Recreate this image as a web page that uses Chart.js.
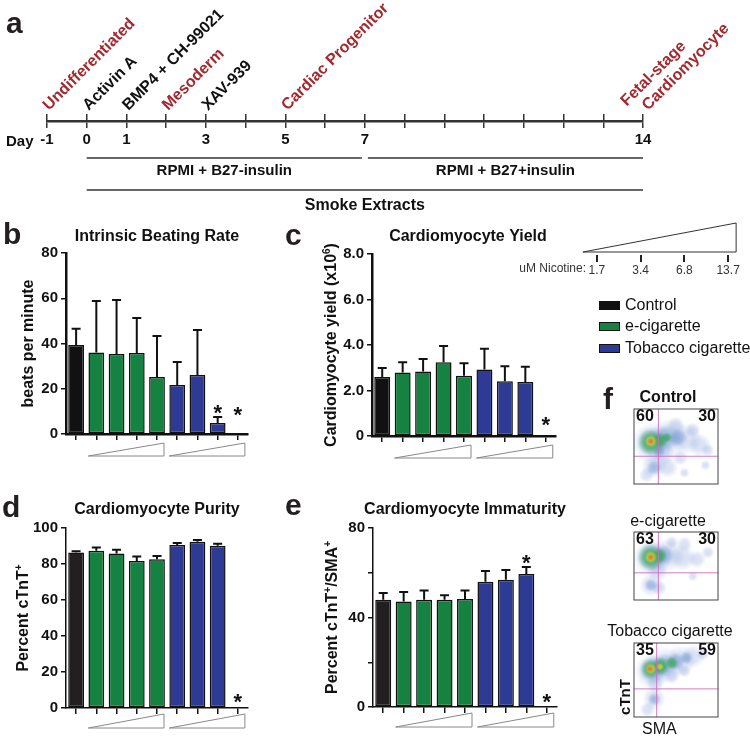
<!DOCTYPE html>
<html>
<head>
<meta charset="utf-8">
<script src="https://cdn.jsdelivr.net/npm/chart.js@4.4.0/dist/chart.umd.min.js"></script>
<style>
body { margin: 0; background: #fff; }
#wrap { position: relative; width: 750px; height: 738px; overflow: hidden; font-family: "Liberation Sans", Arial, sans-serif; color: #111; }
canvas { position: absolute; }
.sq { position: absolute; left: 599px; width: 21px; height: 9px; box-sizing: border-box; border: 1.5px solid #111; }
.lt { position: absolute; left: 625px; font-size: 16px; line-height: 18px; white-space: nowrap; }
</style>
</head>
<body>
<div id="wrap">
  <canvas id="tl" style="left:0;top:0" width="750" height="215"></canvas>
  <canvas id="nic" style="left:500px;top:200px" width="250" height="85"></canvas>
  <canvas id="cb" style="left:0;top:215px" width="260" height="260"></canvas>
  <canvas id="cc" style="left:270px;top:215px" width="300" height="260"></canvas>
  <canvas id="cd" style="left:0;top:480px" width="260" height="258"></canvas>
  <canvas id="ce" style="left:270px;top:480px" width="300" height="258"></canvas>
  <canvas id="f1" style="left:600px;top:380px" width="150" height="120"></canvas>
  <canvas id="f2" style="left:600px;top:505px" width="150" height="110"></canvas>
  <canvas id="f3" style="left:600px;top:615px" width="150" height="123"></canvas>

  <div class="sq" style="top:301px;background:#111"></div><div class="lt" style="top:296px">Control</div>
  <div class="sq" style="top:322px;background:#168241"></div><div class="lt" style="top:317px">e-cigarette</div>
  <div class="sq" style="top:344px;background:#2d3b94"></div><div class="lt" style="top:339px">Tobacco cigarette</div>
</div>
<script>
const FONT = '"Liberation Sans", Arial, Helvetica, sans-serif';
Chart.defaults.font.family = FONT;

// ---- panel a: protocol timeline
const dayLabels = [-1, 0, 1, 3, 5, 7, 14];
const eventDays = [-1, 0, 1, 2, 3, 5, 14];
const eventTexts = ['Undifferentiated', 'Activin A', 'BMP4 + CH-99021', 'Mesoderm', 'XAV-939', 'Cardiac Progenitor', 'Fetal-stage\nCardiomyocyte'];
const eventIsStage = [true, false, false, true, false, true, true];
const mediaFrom = [0, 7];
const mediaTo = [7, 14];
const mediaText = ['RPMI + B27-insulin', 'RPMI + B27+insulin'];
const smokeFrom = 0, smokeTo = 14;

// ---- bar panels (b-e)
const groups = ['Control', 'e-cig 1.7', 'e-cig 3.4', 'e-cig 6.8', 'e-cig 13.7', 'Tobacco 1.7', 'Tobacco 3.4', 'Tobacco 6.8', 'Tobacco 13.7'];
const beatRate = [39.3, 36.0, 35.4, 35.8, 25.2, 21.7, 26.1, 4.9, 0];
const beatRateSd = [7.2, 22.8, 23.8, 15.5, 18.1, 10.1, 19.9, 2.6, 0];
const beatStars = [7, 8];
const cmYield = [2.59, 2.79, 2.84, 3.24, 2.65, 2.92, 2.41, 2.37, 0];
const cmYieldSd = [0.40, 0.45, 0.55, 0.72, 0.55, 0.92, 0.66, 0.67, 0];
const yieldStars = [8];
const purity = [86.4, 87.3, 85.8, 81.7, 82.6, 90.6, 92.3, 90.1, 0];
const puritySd = [0.7, 1.9, 2.1, 2.4, 1.9, 1.0, 1.0, 1.1, 0];
const purityStars = [8];
const immaturity = [47.9, 47.1, 47.9, 47.9, 48.3, 56.0, 56.9, 59.4, 0];
const immaturitySd = [3.0, 4.3, 4.2, 2.1, 3.8, 4.8, 4.3, 3.2, 0];
const immaturityStars = [7, 8];

const nicotineDoses = ['1.7', '3.4', '6.8', '13.7'];

// ---- panel f: flow plots, density blobs [x, y, radius px], 0-100 axes
const fTitles = ['Control', 'e-cigarette', 'Tobacco cigarette'];
const fLeftPct = ['60', '63', '35'];
const fRightPct = ['30', '30', '59'];
const fGateX = [29, 29, 27];
const fGateY = [37, 40, 38];
const ctrlHalo = [[22,55,16],[42,62,15],[62,60,12],[78,52,9],[88,45,5],[35,40,9],[24,25,10],[40,22,8],[15,12,6],[55,35,6],[50,78,7],[70,72,6],[85,25,4],[60,15,4]];
const ctrlMid = [[21,56,12],[38,62,10],[52,62,7],[24,22,6],[30,44,5]];
const ctrlCore = [[20,56,10],[31,58,6],[39,62,4]];
const ctrlHot = [[20,57,5]];
const ctrlPeak = [[20,57,2.5]];
const ecigHalo = [[22,62,15],[40,66,13],[58,62,10],[75,60,7],[88,70,5],[28,42,8],[20,22,9],[30,18,6],[60,82,6],[45,85,5],[70,35,4]];
const ecigMid = [[21,63,12],[36,66,8],[20,22,5]];
const ecigCore = [[20,63,10],[30,65,6]];
const ecigHot = [[20,63,5]];
const ecigPeak = [[20,63,2.5]];
const tobHalo = [[22,62,14],[38,70,14],[55,76,12],[70,82,9],[82,85,5],[25,45,7],[24,25,9],[16,10,6],[45,55,6],[60,62,5]];
const tobMid = [[22,64,11],[36,70,9],[50,75,7],[62,80,5],[24,24,5]];
const tobCore = [[20,65,8],[32,69,7],[45,73,5]];
const tobHot = [[20,65,4.5],[31,68,3]];
const tobPeak = [[19,65,2.5]];

const GREEN = '#168241', BLUE = '#2d3b94';

function letter(ctx, t, x, y) {
  ctx.save();
  ctx.font = 'bold 30px ' + FONT;
  ctx.fillStyle = '#231f20';
  ctx.textAlign = 'left';
  ctx.textBaseline = 'alphabetic';
  ctx.fillText(t, x, y);
  ctx.restore();
}

function richText(ctx, parts, x, y, size) {
  const big = 'bold ' + size + 'px ' + FONT;
  const small = 'bold ' + Math.round(size * 0.6) + 'px ' + FONT;
  let w = 0;
  parts.forEach(p => { ctx.font = p.sup ? small : big; w += ctx.measureText(p.t).width; });
  let cx = x - w / 2;
  ctx.textAlign = 'left';
  ctx.textBaseline = 'alphabetic';
  parts.forEach(p => {
    ctx.font = p.sup ? small : big;
    ctx.fillText(p.t, cx, p.sup ? y - size * 0.4 : y);
    cx += ctx.measureText(p.t).width;
  });
}

// ---------- timeline
const tlDeco = {
  id: 'tlDeco',
  afterDraw(chart) {
    const ctx = chart.ctx, x = chart.scales.x;
    ctx.save();
    eventDays.forEach((d, i) => {
      const lines = eventTexts[i].split('\n');
      ctx.save();
      ctx.translate(x.getPixelForValue(d) + (lines.length > 1 ? 5 : 2), 111);
      ctx.rotate(-Math.PI / 4);
      ctx.fillStyle = eventIsStage[i] ? '#a3292e' : '#111';
      ctx.font = 'bold 16px ' + FONT;
      ctx.textAlign = 'left';
      ctx.textBaseline = 'alphabetic';
      lines.forEach((t, k) => {
        const up = lines.length - 1 - k;
        ctx.fillText(t, -12 * up, -18 * up);
      });
      ctx.restore();
    });
    ctx.fillStyle = '#111';
    ctx.font = 'bold 15px ' + FONT;
    ctx.textAlign = 'left';
    ctx.textBaseline = 'middle';
    ctx.fillText('Day', 6, 142);

    ctx.strokeStyle = '#333';
    ctx.lineWidth = 1.5;
    mediaFrom.forEach((f, i) => {
      const a = x.getPixelForValue(f) + (i > 0 ? 3 : 0);
      const b = x.getPixelForValue(mediaTo[i]) - (i === 0 ? 3 : 0);
      ctx.beginPath(); ctx.moveTo(a, 158); ctx.lineTo(b, 158); ctx.stroke();
      ctx.font = 'bold 15px ' + FONT;
      ctx.textAlign = 'center';
      ctx.fillText(mediaText[i], (a + b) / 2, 171);
    });
    const s0 = x.getPixelForValue(smokeFrom), s1 = x.getPixelForValue(smokeTo);
    ctx.beginPath(); ctx.moveTo(s0, 190); ctx.lineTo(s1, 190); ctx.stroke();
    ctx.font = 'bold 16px ' + FONT;
    ctx.textAlign = 'center';
    ctx.fillText('Smoke Extracts', (s0 + s1) / 2, 206);
    letter(ctx, 'a', 6, 33);
    ctx.restore();
  }
};

new Chart(document.getElementById('tl'), {
  type: 'scatter',
  data: { datasets: [] },
  options: {
    responsive: false, animation: false, devicePixelRatio: 1,
    layout: { padding: { left: 47, right: 107, top: 114, bottom: 54 } },
    plugins: { legend: { display: false }, tooltip: { enabled: false } },
    scales: {
      x: {
        type: 'linear', min: -1, max: 14, position: 'bottom',
        ticks: {
          stepSize: 1, autoSkip: false, maxRotation: 0, padding: 3, color: '#111',
          font: { size: 15, weight: 'bold' },
          callback: v => dayLabels.includes(v) ? String(v) : ''
        },
        grid: { drawOnChartArea: true, drawTicks: true, tickLength: 7, color: '#333', lineWidth: 1.5 },
        border: { display: true, color: '#333', width: 2.5 },
        afterFit: s => { s.height = 40; }
      },
      y: { display: false }
    }
  },
  plugins: [tlDeco]
});

// ---------- nicotine scale
const nicDeco = {
  id: 'nicDeco',
  afterDraw(chart) {
    const ctx = chart.ctx, x = chart.scales.x;
    const x0 = x.getPixelForValue(0) - 14, x1 = x.getPixelForValue(3) + 8;
    ctx.save();
    ctx.strokeStyle = '#333';
    ctx.lineWidth = 1;
    ctx.beginPath();
    ctx.moveTo(x0, 52); ctx.lineTo(x1, 23); ctx.lineTo(x1, 52); ctx.closePath();
    ctx.stroke();
    ctx.fillStyle = '#333';
    ctx.font = '12px ' + FONT;
    ctx.textAlign = 'right';
    ctx.textBaseline = 'middle';
    ctx.fillText('uM Nicotine:', 86, 69);
    ctx.restore();
  }
};

new Chart(document.getElementById('nic'), {
  type: 'line',
  data: { labels: nicotineDoses, datasets: [] },
  options: {
    responsive: false, animation: false, devicePixelRatio: 1,
    layout: { padding: { left: 75, right: 0, top: 20, bottom: 5 } },
    plugins: { legend: { display: false }, tooltip: { enabled: false } },
    scales: {
      x: {
        offset: true,
        ticks: { color: '#333', padding: 1, font: { size: 12 } },
        grid: { offset: false, drawOnChartArea: false, tickLength: 7, color: '#222', lineWidth: 2 },
        border: { display: false },
        afterFit: s => { s.height = 25; }
      },
      y: { display: false }
    }
  },
  plugins: [nicDeco]
});

// ---------- bar panels
function barColors(ctrl) {
  return groups.map((g, i) => i === 0 ? ctrl : (i < 5 ? GREEN : BLUE));
}

function barChart(id, o) {
  const deco = {
    id: 'deco' + id,
    afterDatasetsDraw(chart) {
      const ctx = chart.ctx, y = chart.scales.y, x = chart.scales.x;
      const bars = chart.getDatasetMeta(0).data;
      const base = y.getPixelForValue(0);
      ctx.save();
      ctx.strokeStyle = '#111';
      ctx.lineWidth = 2;
      o.values.forEach((v, i) => {
        if (!o.sd[i]) return;
        const bx = bars[i].x, top = y.getPixelForValue(v + o.sd[i]), bt = y.getPixelForValue(v);
        ctx.beginPath();
        ctx.moveTo(bx, bt); ctx.lineTo(bx, top);
        ctx.moveTo(bx - 4.5, top); ctx.lineTo(bx + 4.5, top);
        ctx.stroke();
      });
      ctx.fillStyle = '#111';
      ctx.font = 'bold 22px ' + FONT;
      ctx.textAlign = 'center';
      ctx.textBaseline = 'alphabetic';
      o.stars.forEach(i => {
        const errPx = y.getPixelForValue(o.values[i] + o.sd[i]);
        const cy = Math.min(errPx - 9, base - o.lift);
        ctx.fillText('*', bars[i].x, cy + 12);
      });
      // dose wedges under each treatment group
      ctx.strokeStyle = '#888';
      ctx.lineWidth = 1;
      [[1, 4], [5, 8]].forEach(([a, b]) => {
        const x0 = x.getPixelForValue(a) - 8, x1 = x.getPixelForValue(b) + 7;
        ctx.beginPath();
        ctx.moveTo(x0, base + o.wedge[1]); ctx.lineTo(x1, base + o.wedge[0]); ctx.lineTo(x1, base + o.wedge[1]); ctx.closePath();
        ctx.stroke();
      });
      ctx.restore();
    },
    afterDraw(chart) {
      const ctx = chart.ctx, a = chart.chartArea;
      ctx.save();
      ctx.fillStyle = '#111';
      ctx.font = 'bold 16px ' + FONT;
      ctx.textAlign = 'center';
      ctx.textBaseline = 'middle';
      ctx.fillText(o.title, (a.left + a.right) / 2 + o.titleDx, o.titleY);
      ctx.save();
      ctx.translate(o.yTitleX, (a.top + a.bottom) / 2);
      ctx.rotate(-Math.PI / 2);
      richText(ctx, o.yTitle, 0, 6, 16);
      ctx.restore();
      letter(ctx, o.letter[0], o.letter[1], o.letter[2]);
      ctx.restore();
    }
  };
  new Chart(document.getElementById(id), {
    type: 'bar',
    data: {
      labels: groups,
      datasets: [{
        data: o.values, backgroundColor: barColors(o.ctrl), borderColor: '#111', borderWidth: 1.5,
        borderSkipped: false, barPercentage: 0.78, categoryPercentage: 1
      }]
    },
    options: {
      responsive: false, animation: false, devicePixelRatio: 1,
      layout: { padding: o.pad },
      plugins: { legend: { display: false }, tooltip: { enabled: false } },
      scales: {
        x: {
          ticks: { display: false },
          grid: { offset: false, drawOnChartArea: false, tickLength: 6, color: '#111', lineWidth: 1.5 },
          border: { color: '#111', width: o.axisW },
          afterFit: s => { s.height = 10; }
        },
        y: {
          min: 0, max: o.max,
          ticks: { stepSize: o.step, color: '#111', padding: 3, font: { size: 15, weight: 'bold' }, callback: o.fmt },
          grid: { drawOnChartArea: false, tickLength: 5, color: '#111', lineWidth: 1.5 },
          border: { color: '#111', width: o.axisW },
          afterFit: s => { s.width = 40; }
        }
      }
    },
    plugins: [deco]
  });
}

barChart('cb', {
  values: beatRate, sd: beatRateSd, stars: beatStars, ctrl: '#111',
  max: 80, step: 20, fmt: v => v, axisW: 2.5, lift: 24, wedge: [9, 22],
  pad: { left: 26, top: 38, right: 12, bottom: 31 },
  title: 'Intrinsic Beating Rate', titleDx: 0, titleY: 22,
  yTitle: [{ t: 'beats per minute' }], yTitleX: 27, letter: ['b', 3, 29]
});
barChart('cc', {
  values: cmYield, sd: cmYieldSd, stars: yieldStars, ctrl: '#111',
  max: 8, step: 2, fmt: v => v === 0 ? '0' : v.toFixed(1), axisW: 2.5, lift: 16, wedge: [9, 22],
  pad: { left: 62, top: 39, right: 14, bottom: 29 },
  title: 'Cardiomyocyte Yield', titleDx: 4, titleY: 22,
  yTitle: [{ t: 'Cardiomyocyte yield (x10' }, { t: '6', sup: true }, { t: ')' }], yTitleX: 60, letter: ['c', 15, 30]
});
barChart('cd', {
  values: purity, sd: puritySd, stars: purityStars, ctrl: '#231f20',
  max: 100, step: 20, fmt: v => v, axisW: 1.5, lift: 11, wedge: [6, 20],
  pad: { left: 26, top: 48, right: 12, bottom: 20 },
  title: 'Cardiomyocyte Purity', titleDx: 0, titleY: 30,
  yTitle: [{ t: 'Percent cTnT' }, { t: '+', sup: true }], yTitleX: 22, letter: ['d', 2, 37]
});
barChart('ce', {
  values: immaturity, sd: immaturitySd, stars: immaturityStars, ctrl: '#231f20',
  max: 80, step: 20, fmt: v => v % 40 === 0 ? v : '', axisW: 1.5, lift: 10, wedge: [6, 20],
  pad: { left: 63, top: 48, right: 13, bottom: 21 },
  title: 'Cardiomyocyte Immaturity', titleDx: 0, titleY: 30,
  yTitle: [{ t: 'Percent cTnT' }, { t: '+', sup: true }, { t: '/SMA' }, { t: '+', sup: true }], yTitleX: 61, letter: ['e', 15, 35]
});

// ---------- flow plots
const levelRgb = ['110,140,210', '60,115,195', '60,170,90', '222,212,55', '238,110,40'];
const levelAlpha = [0.28, 0.36, 0.85, 0.85, 0.9];
const dotCache = {};
function softDot(r, level) {
  const key = r + '_' + level;
  if (dotCache[key]) return dotCache[key];
  const rr = r * 1.3;
  const s = Math.ceil(rr * 2) + 2;
  const c = document.createElement('canvas');
  c.width = s; c.height = s;
  const g = c.getContext('2d');
  const grad = g.createRadialGradient(s / 2, s / 2, 0, s / 2, s / 2, rr);
  const rgb = levelRgb[level], a = levelAlpha[level];
  grad.addColorStop(0, 'rgba(' + rgb + ',' + a + ')');
  grad.addColorStop(0.5, 'rgba(' + rgb + ',' + (a * 0.8) + ')');
  grad.addColorStop(1, 'rgba(' + rgb + ',0)');
  g.fillStyle = grad;
  g.fillRect(0, 0, s, s);
  dotCache[key] = c;
  return c;
}

function flowChart(id, k, levels, o) {
  const deco = {
    id: 'fdeco' + id,
    afterDraw(chart) {
      const ctx = chart.ctx, a = chart.chartArea, x = chart.scales.x, y = chart.scales.y;
      ctx.save();
      ctx.strokeStyle = 'rgba(205,110,190,0.9)';
      ctx.lineWidth = 1;
      const gx = x.getPixelForValue(fGateX[k]), gy = y.getPixelForValue(fGateY[k]);
      ctx.beginPath();
      ctx.moveTo(gx, a.top); ctx.lineTo(gx, a.bottom);
      ctx.moveTo(a.left, gy); ctx.lineTo(a.right, gy);
      ctx.stroke();
      ctx.strokeStyle = '#444';
      ctx.strokeRect(a.left, a.top, a.right - a.left, a.bottom - a.top);
      ctx.fillStyle = '#111';
      ctx.font = 'bold 16px ' + FONT;
      ctx.textBaseline = 'middle';
      ctx.textAlign = 'left';
      ctx.fillText(fLeftPct[k], a.left + 2, a.top + 8);
      ctx.textAlign = 'right';
      ctx.fillText(fRightPct[k], a.right - 2, a.top + 8);
      ctx.textAlign = 'center';
      ctx.font = (k === 0 ? 'bold ' : '') + '16px ' + FONT;
      ctx.fillText(fTitles[k], o.titleX, o.titleY);
      if (o.axes) {
        ctx.font = '16px ' + FONT;
        ctx.textAlign = 'left';
        ctx.fillText('SMA', a.left + 8, a.bottom + 13);
        ctx.save();
        ctx.translate(a.left - 8, a.bottom - 20);
        ctx.rotate(-Math.PI / 2);
        ctx.font = 'bold 15px ' + FONT;
        ctx.textAlign = 'center';
        ctx.fillText('cTnT', 0, 0);
        ctx.restore();
      }
      if (o.letter) letter(ctx, 'f', 3, 29);
      ctx.restore();
    }
  };
  new Chart(document.getElementById(id), {
    type: 'bubble',
    data: {
      datasets: levels.map((pts, i) => ({
        data: pts.map(p => ({ x: p[0], y: p[1], r: p[2] })),
        pointStyle: c => softDot(c.raw.r, c.datasetIndex),
        borderWidth: 0,
        order: levels.length - i
      }))
    },
    options: {
      responsive: false, animation: false, devicePixelRatio: 1,
      layout: { padding: o.pad },
      plugins: { legend: { display: false }, tooltip: { enabled: false } },
      scales: {
        x: { display: false, min: 0, max: 100 },
        y: { display: false, min: 0, max: 100 }
      }
    },
    plugins: [deco]
  });
}

flowChart('f1', 0, [ctrlHalo, ctrlMid, ctrlCore, ctrlHot, ctrlPeak],
  { pad: { left: 34, top: 29, right: 32, bottom: 10 }, titleX: 68, titleY: 18, letter: true });
flowChart('f2', 1, [ecigHalo, ecigMid, ecigCore, ecigHot, ecigPeak],
  { pad: { left: 34, top: 27, right: 32, bottom: 8 }, titleX: 68, titleY: 17 });
flowChart('f3', 2, [tobHalo, tobMid, tobCore, tobHot, tobPeak],
  { pad: { left: 34, top: 28, right: 32, bottom: 21 }, titleX: 70, titleY: 17, axes: true });
</script>
</body>
</html>
